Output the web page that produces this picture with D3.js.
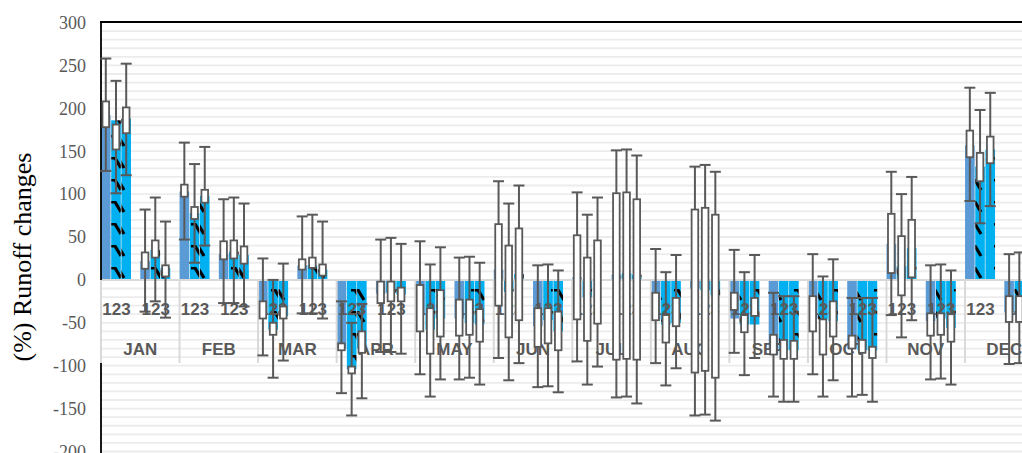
<!DOCTYPE html>
<html>
<head>
<meta charset="utf-8">
<script src="https://cdn.jsdelivr.net/npm/d3@7"></script>
<style>
  html, body { margin: 0; padding: 0; background: #fff; overflow: hidden; }
  svg { display: block; }
</style>
</head>
<body>
<svg id="chart" width="1022" height="453"></svg>
<script>
// Monthly runoff change (%) for two periods, three scenarios (1, 2, 3) each.
const months = ["JAN","FEB","MAR","APR","MAY","JUN","JUL","AUG","SEP","OCT","NOV","DEC"];
const periods = [0, 1];
const scenarios = ["1", "2", "3"];
const yTicks = [300, 250, 200, 150, 100, 50, 0, -50, -100, -150, -200];

// Ensemble mean change, per month: [period 1: s1, s2, s3, period 2: s1, s2, s3]
const meanChange = [
  [192, 186, 188,   22,  35,  14],
  [103,  78,  98,   30,  33,  29],
  [-40, -58, -42,   17,  17,  12],
  [-80,-104, -80,  -16, -15, -17],
  [-40, -58, -45,  -45, -50, -52],
  [ 12, -14,   7,  -54, -47, -60],
  [  3, -20,   1,    6,   8,   6],
  [-46, -52, -50,  -10, -12, -18],
  [-45, -52, -52,  -80, -82, -82],
  [-45, -46, -48,  -80, -82, -82],
  [ 42,  16,  37,  -48, -45, -56],
  [157, 132, 152,  -38, -40, -40]
];
// Spread across models: whisker top, box top, box bottom, whisker bottom
const whiskerMax = [
  [258, 232, 252,   82,  96,  68],
  [160, 135, 155,   94,  96,  89],
  [ 25,   0,  19,   74,  76,  68],
  [-25, -50, -28,   47,  49,  42],
  [ 45,  18,  38,   26,  27,  20],
  [115,  89, 110,   17,  18,  11],
  [102,  76,  96,  151, 152, 145],
  [ 36,   9,  29,  132, 134, 126],
  [ 35,   9,  29,  -15, -19, -19],
  [ 30,   4,  24,  -21, -21, -21],
  [126, 100, 120,   17,  18,  11],
  [224, 198, 218,   30,  32,  28]
];
const boxTop = [
  [208, 181, 201,   32,  46,  17],
  [111,  85, 105,   45,  46,  39],
  [-25, -50, -31,   24,  26,  18],
  [-74,-101, -60,   -2,  -2,  -9],
  [ -6, -33, -12,  -23, -23, -34],
  [ 65,  40,  60,  -33, -33, -37],
  [ 52,  26,  46,  101, 102,  94],
  [-15, -41, -21,   82,  84,  76],
  [-15, -41, -21,  -64, -70, -71],
  [-19, -46, -25,  -65, -70, -78],
  [ 77,  51,  70,  -39, -39, -40],
  [174, 148, 167,  -19, -19, -22]
];
const boxBottom = [
  [178, 152, 171,   13,  26,   4],
  [ 97,  71,  90,   24,  25,  19],
  [-45, -64, -45,   12,  14,   5],
  [-82,-109, -85,  -27, -25, -25],
  [-60, -86, -66,  -65, -64, -72],
  [-30, -67, -47,  -78, -74, -82],
  [-46, -71, -51,  -93, -92, -93],
  [-47, -73, -54, -108,-106,-114],
  [-35, -61, -42,  -87, -92, -92],
  [-60, -87, -66,  -80, -85, -91],
  [  8, -18,   3,  -65, -64, -72],
  [143, 115, 136,  -49, -49, -52]
];
const whiskerMin = [
  [127, 101, 122,  -37, -25, -44],
  [ 47,  20,  40,  -27, -27, -31],
  [-88,-114, -94,  -39, -39, -45],
  [-132,-158,-138, -84, -84, -86],
  [-110,-136,-116,-116,-114,-122],
  [-91,-117, -97, -125,-124,-131],
  [-95,-122,-101, -137,-136,-144],
  [-97,-123,-103, -158,-157,-164],
  [-85,-111, -91, -136,-142,-142],
  [-110,-136,-117,-136,-134,-142],
  [-41, -67, -47, -116,-115,-122],
  [ 92,  66,  86,  -98, -97,-100]
];

const svg = d3.select("#chart");
const plotLeft = 101, plotTop = 22.5, plotBottom = 451.5;
const monthWidth = 78.55;

const y = d3.scaleLinear().domain([-200, 300]).range([plotBottom, plotTop]);
const xMonth = d3.scaleBand().domain(months)
  .range([plotLeft, plotLeft + monthWidth * months.length]);
const xPeriod = d3.scaleBand().domain(periods).range([0, xMonth.bandwidth()]);
const xScen = d3.scaleBand().domain(scenarios).range([0, 30]).paddingInner(0.06);

const greyText = "#595959";

// fill patterns for scenario bars
const defs = svg.append("defs");
function dashPattern(id, offset) {
  const p = defs.append("pattern").attr("id", id)
    .attr("patternUnits", "userSpaceOnUse")
    .attr("width", 20).attr("height", 22)
    .attr("x", offset).attr("y", 3);
  p.append("rect").attr("width", 20).attr("height", 22).attr("fill", "#00B0F0");
  p.append("path").attr("d", "M0,1 L4,1 L10,11")
    .attr("fill", "none").attr("stroke", "#000").attr("stroke-width", 3.2)
    .attr("stroke-linejoin", "round");
}
dashPattern("dash2", 111);
dashPattern("dash3", 114);
const barFill = ["#5B9BD5", "url(#dash2)", "url(#dash3)"];

// horizontal gridlines every 10 %
svg.append("g").selectAll("line")
  .data(d3.range(-200, 301, 10).filter(v => v !== 0 && v !== 300))
  .join("line")
  .attr("x1", plotLeft).attr("x2", 1022)
  .attr("y1", d => y(d)).attr("y2", d => y(d))
  .attr("stroke", "#ececec").attr("stroke-width", 1.8);

// flatten records
const records = [];
months.forEach((m, mi) => {
  periods.forEach(p => {
    scenarios.forEach((s, si) => {
      const k = p * 3 + si;
      records.push({
        month: m, period: p, scen: s, si,
        mean: meanChange[mi][k],
        wMax: whiskerMax[mi][k], q3: boxTop[mi][k],
        q1: boxBottom[mi][k], wMin: whiskerMin[mi][k]
      });
    });
  });
});
const xOf = d => xMonth(d.month) + xPeriod(d.period) + xScen(d.scen);
const cxOf = d => xOf(d) + xScen.bandwidth() / 2;

// bars
svg.append("g").selectAll("rect")
  .data(records).join("rect")
  .attr("x", xOf)
  .attr("width", xScen.bandwidth())
  .attr("y", d => y(Math.max(0, d.mean)))
  .attr("height", d => Math.abs(y(d.mean) - y(0)))
  .attr("fill", d => barFill[d.si]);

// zero line
svg.append("line")
  .attr("x1", plotLeft).attr("x2", 1022)
  .attr("y1", y(0)).attr("y2", y(0))
  .attr("stroke", "#d9d9d9").attr("stroke-width", 2);

// plot frame: top and left edges
svg.append("line").attr("x1", plotLeft - 1).attr("x2", 1022)
  .attr("y1", plotTop - 0.5).attr("y2", plotTop - 0.5)
  .attr("stroke", "#000").attr("stroke-width", 1.8);
svg.append("line").attr("x1", plotLeft).attr("x2", plotLeft)
  .attr("y1", plotTop - 1).attr("y2", 453)
  .attr("stroke", "#000").attr("stroke-width", 1.8);

// category axis: month separators and labels
const catTop = y(0), catBottom = 363;
svg.append("g").selectAll("line")
  .data(months.map(m => xMonth(m)))
  .join("line")
  .attr("x1", d => d).attr("x2", d => d)
  .attr("y1", catTop).attr("y2", catBottom)
  .attr("stroke", "#d9d9d9").attr("stroke-width", 2);

const periodLabels = [];
months.forEach(m => periods.forEach(p => periodLabels.push({ month: m, period: p })));
svg.append("g").selectAll("text")
  .data(periodLabels).join("text")
  .attr("x", d => xMonth(d.month) + xPeriod(d.period) + 15.5)
  .attr("y", 315)
  .attr("text-anchor", "middle")
  .attr("font-family", "Liberation Sans, Arial, sans-serif")
  .attr("font-weight", "bold").attr("font-size", 17)
  .attr("fill", greyText)
  .text(scenarios.join(""));

svg.append("g").selectAll("text")
  .data(months).join("text")
  .attr("x", d => xMonth(d) + xMonth.bandwidth() / 2)
  .attr("y", 355)
  .attr("text-anchor", "middle")
  .attr("font-family", "Liberation Sans, Arial, sans-serif")
  .attr("font-weight", "bold").attr("font-size", 17)
  .attr("fill", greyText)
  .text(d => d);

// box-and-whisker marks
const boxG = svg.append("g").selectAll("g").data(records).join("g");
const whiskerColor = "#595959";
boxG.append("line")
  .attr("x1", cxOf).attr("x2", cxOf)
  .attr("y1", d => y(d.wMax)).attr("y2", d => y(d.wMin))
  .attr("stroke", whiskerColor).attr("stroke-width", 2);
boxG.append("line")
  .attr("x1", d => cxOf(d) - 5.5).attr("x2", d => cxOf(d) + 5.5)
  .attr("y1", d => y(d.wMax)).attr("y2", d => y(d.wMax))
  .attr("stroke", whiskerColor).attr("stroke-width", 2);
boxG.append("line")
  .attr("x1", d => cxOf(d) - 5.5).attr("x2", d => cxOf(d) + 5.5)
  .attr("y1", d => y(d.wMin)).attr("y2", d => y(d.wMin))
  .attr("stroke", whiskerColor).attr("stroke-width", 2);
boxG.append("rect")
  .attr("x", d => cxOf(d) - 3.3).attr("width", 6.6)
  .attr("y", d => y(d.q3))
  .attr("height", d => y(d.q1) - y(d.q3))
  .attr("fill", "#fff").attr("stroke", whiskerColor).attr("stroke-width", 1.8);

// value axis labels
svg.append("g").selectAll("text")
  .data(yTicks).join("text")
  .attr("x", 86).attr("y", d => y(d))
  .attr("dy", "0.35em")
  .attr("text-anchor", "end")
  .attr("font-family", "Liberation Serif, Times New Roman, serif")
  .attr("font-size", 18)
  .attr("fill", greyText)
  .text(d => d);

svg.append("text")
  .attr("transform", "translate(31,257) rotate(-90)")
  .attr("text-anchor", "middle")
  .attr("font-family", "Liberation Serif, Times New Roman, serif")
  .attr("font-size", 26)
  .attr("fill", "#000")
  .text("(%) Runoff changes");
</script>
</body>
</html>
